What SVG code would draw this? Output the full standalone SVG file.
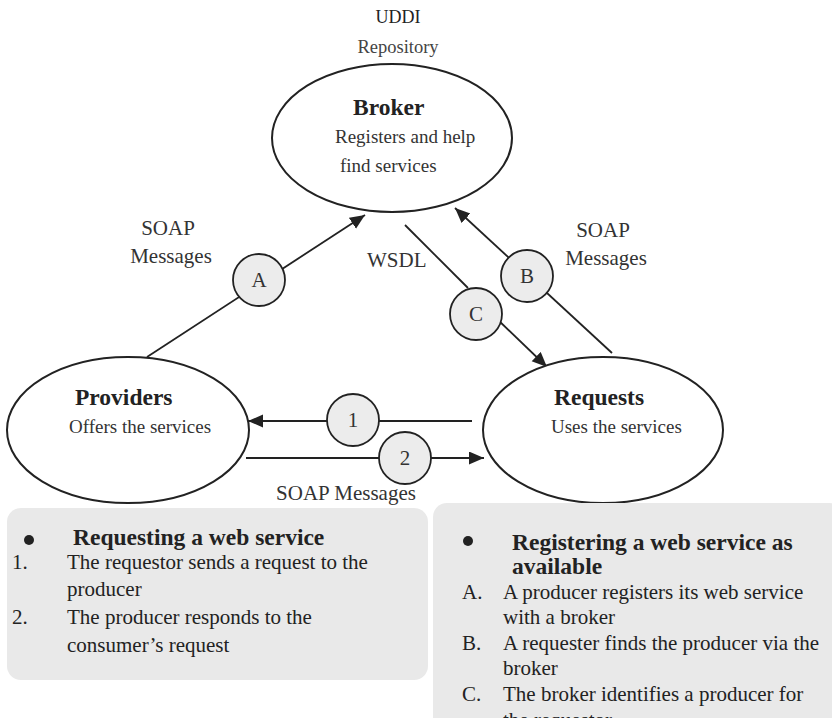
<svg xmlns="http://www.w3.org/2000/svg" width="832" height="718" viewBox="0 0 832 718">
<style>
text{font-family:"Liberation Serif","Times New Roman",serif;fill:#222}
.t{font-size:19px;fill:#333}
.h{font-size:23.5px;font-weight:bold}
.l{font-size:21px;fill:#333}
.b{font-size:21px}
.c{text-anchor:middle}
.node{fill:#fff;stroke:#222;stroke-width:2}
.badge{fill:#ececec;stroke:#222;stroke-width:1.8}
.conn{stroke:#222;stroke-width:1.8;fill:none}
.panel{fill:#e9e9e9}
</style>
<defs>
<marker id="ah" markerUnits="userSpaceOnUse" markerWidth="16" markerHeight="14" refX="15" refY="6.5" orient="auto">
<path d="M0,0 L15,6.5 L0,13 z" fill="#222"/>
</marker>
</defs>
<rect width="832" height="718" fill="#fff"/>

<g id="connectors">
<line class="conn" x1="147" y1="357" x2="365" y2="215" marker-end="url(#ah)"/>
<line class="conn" x1="612" y1="353" x2="455" y2="208" marker-end="url(#ah)"/>
<line class="conn" x1="405" y1="225" x2="468" y2="288"/>
<line class="conn" x1="496" y1="318" x2="547" y2="367" marker-end="url(#ah)"/>
<line class="conn" x1="472" y1="421" x2="248" y2="421" marker-end="url(#ah)"/>
<line class="conn" x1="246" y1="458" x2="484" y2="458" marker-end="url(#ah)"/>
</g>

<g id="broker">
<text class="c" x="398" y="23" style="font-size:18px">UDDI</text>
<text class="c" x="398" y="53" style="font-size:18.5px;fill:#444">Repository</text>
<ellipse class="node" cx="392" cy="138" rx="120" ry="74"/>
<text class="h" x="353" y="115">Broker</text>
<text class="t" x="335" y="143">Registers and help</text>
<text class="t" x="340" y="172">find services</text>
</g>

<g id="providers">
<ellipse class="node" cx="128" cy="430" rx="121" ry="73"/>
<text class="h" x="75" y="405">Providers</text>
<text class="t" x="69" y="433">Offers the services</text>
</g>

<g id="requests">
<ellipse class="node" cx="603" cy="430" rx="120" ry="73"/>
<text class="h" x="554" y="405">Requests</text>
<text class="t" x="551" y="433">Uses the services</text>
</g>

<g id="badge-a"><circle class="badge" cx="259" cy="280" r="26"/><text class="l c" x="259" y="287">A</text></g>
<g id="badge-b"><circle class="badge" cx="527" cy="276" r="26"/><text class="l c" x="527" y="283">B</text></g>
<g id="badge-c"><circle class="badge" cx="476" cy="314" r="26"/><text class="l c" x="476" y="321">C</text></g>
<g id="badge-1"><circle class="badge" cx="353" cy="420" r="26"/><text class="l c" x="353" y="427">1</text></g>
<g id="badge-2"><circle class="badge" cx="405" cy="458" r="26"/><text class="l c" x="405" y="465">2</text></g>

<g id="labels">
<text class="l c" x="168" y="235">SOAP</text>
<text class="l c" x="171" y="263">Messages</text>
<text class="l" x="367" y="267">WSDL</text>
<text class="l c" x="603" y="237">SOAP</text>
<text class="l c" x="606" y="265">Messages</text>
<text class="l c" x="346" y="500">SOAP Messages</text>
</g>

<g id="panel-requesting">
<rect class="panel" x="7" y="508" width="421" height="172" rx="14"/>
<circle cx="29" cy="540" r="5" fill="#222"/>
<text class="h" x="73" y="545">Requesting a web service</text>
<text class="b" x="12" y="569">1.</text>
<text class="b" x="67" y="569">The requestor sends a request to the</text>
<text class="b" x="67" y="596">producer</text>
<text class="b" x="12" y="624">2.</text>
<text class="b" x="67" y="624">The producer responds to the</text>
<text class="b" x="67" y="652">consumer’s request</text>
</g>

<g id="panel-registering">
<rect class="panel" x="433" y="503" width="410" height="230" rx="14"/>
<circle cx="468" cy="541" r="5" fill="#222"/>
<text class="h" x="512" y="550">Registering a web service as</text>
<text class="h" x="512" y="574">available</text>
<text class="b" x="462" y="599">A.</text>
<text class="b" x="503" y="599">A producer registers its web service</text>
<text class="b" x="503" y="624">with a broker</text>
<text class="b" x="462" y="650">B.</text>
<text class="b" x="503" y="650">A requester finds the producer via the</text>
<text class="b" x="503" y="675">broker</text>
<text class="b" x="462" y="701">C.</text>
<text class="b" x="503" y="701">The broker identifies a producer for</text>
<text class="b" x="503" y="727">the requestor</text>
</g>
</svg>
